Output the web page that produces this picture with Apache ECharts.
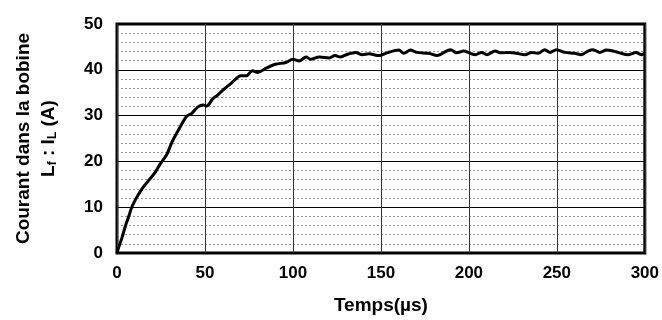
<!DOCTYPE html>
<html>
<head>
<meta charset="utf-8">
<script src="https://cdn.jsdelivr.net/npm/echarts@6/dist/echarts.min.js"></script>
<style>
  html, body { margin: 0; padding: 0; background: #fff; }
  #main { width: 662px; height: 320px; }
</style>
</head>
<body>
<div id="main"></div>
<script>
// temps (µs)
var temps = [0, 1, 2.8, 4.7, 6.6, 8.5, 11.3, 14.2, 17.9, 21.7, 24.5, 28.3, 31, 35, 39.5, 42.5, 46, 49, 51, 54.5, 57,
  60, 65, 70.5, 73.5, 77, 80, 84.5, 90, 96, 100, 103.5, 107.5, 110, 115, 120.5, 124, 127, 131,
  135.7, 139.4, 143.2, 148.9, 153.4, 160.2, 163, 166.8, 170.5, 177.2, 181.9, 189.5, 193.2, 197,
  200.8, 203.6, 207.3, 210.2, 214.9, 217.8, 223.4, 227.1, 231.9, 235.6, 239.4, 243.2, 246.1,
  249.8, 254.5, 260.2, 263.9, 267.7, 270.6, 274.4, 278.1, 281.9, 285.7, 290.4, 295.1, 297.9, 300];
// courant I_L (A)
var courant = [0, 1.3, 3.3, 5.8, 7.9, 10.1, 12.2, 14, 15.8, 17.6, 19.4, 21.5, 24, 26.9, 29.8, 30.5, 31.9, 32.3, 32.1, 33.7, 34.4,
  35.5, 37.1, 38.7, 38.7, 39.8, 39.4, 40.3, 41.2, 41.6, 42.3, 41.9, 42.8, 42.3, 42.8, 42.6, 43.1, 42.8, 43.4,
  43.8, 43.3, 43.5, 43.1, 43.7, 44.3, 43.6, 44.3, 43.8, 43.6, 43.1, 44.4, 43.7, 44.1,
  43.6, 43.3, 43.8, 43.3, 44.1, 43.7, 43.8, 43.6, 43.3, 43.8, 43.6, 44.4, 43.8,
  44.4, 43.8, 43.6, 43.3, 44.1, 44.4, 43.8, 44.3, 44.1, 43.7, 43.3, 43.8, 43.3, 43.6];

var points = temps.map(function (t, i) { return [t, courant[i]]; });

var chartDom = document.getElementById('main');
var myChart = echarts.init(chartDom);
var font = 'Liberation Sans, Arial, sans-serif';

var option = {
  animation: false,
  backgroundColor: '#fff',
  grid: {
    left: 117, right: 15, top: 24, bottom: 63,
    show: true, borderColor: '#000', borderWidth: 3
  },
  xAxis: {
    type: 'value',
    min: 0, max: 300, interval: 50,
    name: 'Temps(µs)',
    nameLocation: 'middle',
    nameGap: 43,
    nameTextStyle: { fontFamily: font, fontWeight: 'bold', fontSize: 19, color: '#000' },
    axisLine: { show: false },
    axisTick: { show: false },
    axisLabel: { margin: 12, fontFamily: font, fontWeight: 'bold', fontSize: 17, color: '#000' },
    splitLine: { show: true, lineStyle: { color: '#333', width: 1 } }
  },
  yAxis: {
    type: 'value',
    min: 0, max: 50, interval: 10,
    name: '{a|Courant dans la bobine}\n{a|L}{s|f}{a| : I}{s|L}{a| (A)}',
    nameLocation: 'middle',
    nameGap: 56,
    nameTextStyle: {
      fontFamily: font, fontWeight: 'bold', fontSize: 19, color: '#000', lineHeight: 25,
      rich: {
        a: { fontFamily: font, fontWeight: 'bold', fontSize: 19, color: '#000', lineHeight: 25 },
        s: { fontFamily: font, fontWeight: 'bold', fontSize: 12, color: '#000', lineHeight: 25, padding: [8, 0, 0, 0] }
      }
    },
    axisLine: { show: false },
    axisTick: { show: false },
    axisLabel: { margin: 14, fontFamily: font, fontWeight: 'bold', fontSize: 17, color: '#000' },
    splitLine: { show: true, lineStyle: { color: '#000', width: 1 } },
    minorTick: { show: false, splitNumber: 5 },
    minorSplitLine: { show: true, lineStyle: { color: '#999', width: 1, type: [2, 2] } }
  },
  series: [
    {
      type: 'line',
      data: points,
      showSymbol: false,
      smooth: 0.3,
      lineStyle: { color: '#000', width: 3 },
      z: 5
    }
  ]
};
option && myChart.setOption(option);
</script>
</body>
</html>
